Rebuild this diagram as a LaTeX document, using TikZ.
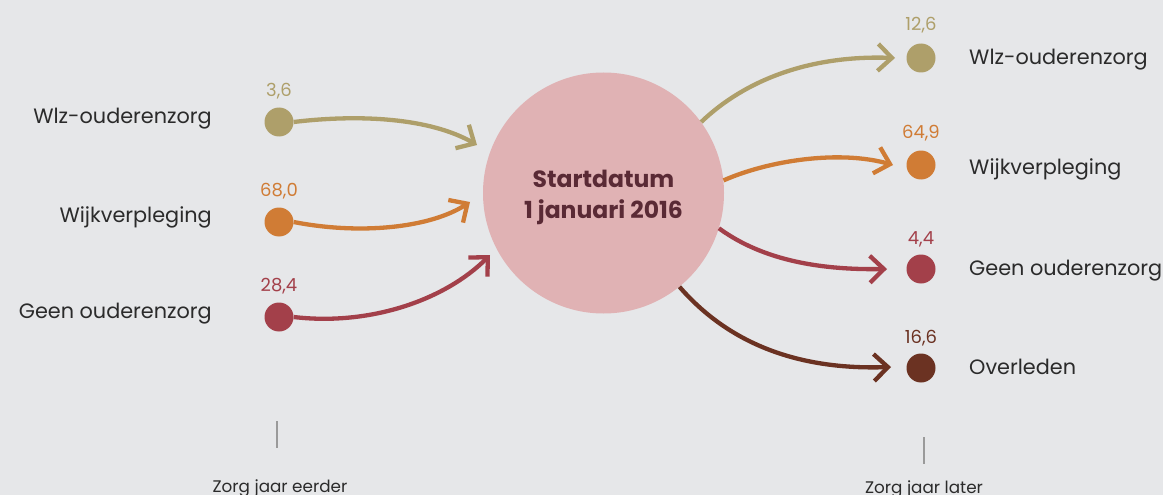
\documentclass[tikz,border=0pt]{standalone}
\usepackage{fontspec}
\setmainfont{Poppins}
\usetikzlibrary{arrows.meta}
\definecolor{bg}{HTML}{E6E7E9}
\definecolor{cwlz}{HTML}{AE9F6A}
\definecolor{cwijk}{HTML}{D07C35}
\definecolor{cgeen}{HTML}{A3404A}
\definecolor{cover}{HTML}{6B3222}
\definecolor{cpink}{HTML}{E0B2B4}
\definecolor{cmaroon}{HTML}{5A2A35}
\definecolor{ctxt}{HTML}{2B2B2B}
\definecolor{ctick}{HTML}{9A9A9A}
\tikzset{
  dot/.style={circle, minimum size=29pt, inner sep=0pt, fill=#1},
  val/.style={anchor=base, text=#1, font=\fontsize{18}{20}\selectfont, inner sep=0pt},
  lbl/.style={text=ctxt, font=\fontsize{20.8}{24}\selectfont, inner sep=0pt},
  flow/.style={draw=#1, line width=4.3pt, -{Straight Barb[length=14pt,width=27pt]}},
  axlbl/.style={anchor=base, text=ctxt, font=\fontsize{16.8}{20}\selectfont, inner sep=0pt},
  tick/.style={draw=ctick, line width=1.5pt}
}
\begin{document}
\begin{tikzpicture}[x=1pt,y=-1pt]
\useasboundingbox (0,0) rectangle (1163,495);
\fill[bg] (0,0) rectangle (1163,495);
\clip (0,0) rectangle (1163,495);

% central circle
\node[circle, minimum size=241pt, inner sep=0pt, fill=cpink] (c) at (603.5,193) {};
\node[text=cmaroon, font=\bfseries\fontsize{23.5}{31}\selectfont, align=center,
      inner sep=0pt] (ct) at (603.5,197) {Startdatum\\1 januari 2016};

% left side
\node[dot=cwlz]  (l1) at (279,122) {};
\node[dot=cwijk] (l2) at (279,222) {};
\node[dot=cgeen] (l3) at (279,317) {};
\node[val=cwlz]  (v1) at (279,97) {3,6};
\node[val=cwijk] (v2) at (279,196) {68,0};
\node[val=cgeen] (v3) at (279,291) {28,4};
\node[lbl, anchor=base east] (t1) at (212,123) {Wlz-ouderenzorg};
\node[lbl, anchor=base east] (t2) at (212,222) {Wijkverpleging};
\node[lbl, anchor=base east] (t3) at (212,318) {Geen ouderenzorg};

\coordinate (e1) at (477,145);
\coordinate (e2) at (470,202);
\coordinate (e3) at (490,255);
\draw[flow=cwlz]  (l1.east) .. controls (360,114) and (430,118) .. (e1);
\draw[flow=cwijk] (l2.east) .. controls (360,235) and (430,228) .. (e2);
\draw[flow=cgeen] (l3.east) .. controls (370,326) and (445,300) .. (e3);

% right side
\node[dot=cwlz]  (r1) at (921,58) {};
\node[dot=cwijk] (r2) at (921,165) {};
\node[dot=cgeen] (r3) at (921,269) {};
\node[dot=cover] (r4) at (921,368) {};
\node[val=cwlz]  (w1) at (921,31) {12,6};
\node[val=cwijk] (w2) at (921,139) {64,9};
\node[val=cgeen] (w3) at (921,244) {4,4};
\node[val=cover] (w4) at (921,343) {16,6};
\node[lbl, anchor=base west] (s1) at (969,65) {Wlz-ouderenzorg};
\node[lbl, anchor=base west] (s2) at (969,174) {Wijkverpleging};
\node[lbl, anchor=base west] (s3) at (969,275) {Geen ouderenzorg};
\node[lbl, anchor=base west] (s4) at (969,374) {Overleden};

\coordinate (f1) at (895,58);
\coordinate (f2) at (893,165);
\coordinate (f3) at (887,269);
\coordinate (f4) at (891,367);
\draw[flow=cwlz]  (c.36)  .. controls (745,80) and (810,55) .. (f1);
\draw[flow=cwijk] (c.6)   .. controls (770,160) and (840,150) .. (f2);
\draw[flow=cgeen] (c.-17) .. controls (765,262) and (825,270) .. (f3);
\draw[flow=cover] (c.-51) .. controls (730,345) and (800,370) .. (f4);

% axis ticks
\coordinate (ka) at (277,421);
\coordinate (kb) at (277,448);
\coordinate (kc) at (924,437);
\coordinate (kd) at (924,464);
\draw[tick] (ka) -- (kb);
\draw[tick] (kc) -- (kd);
\node[axlbl] (a1) at (280,492) {Zorg jaar eerder};
\node[axlbl] (a2) at (924,493) {Zorg jaar later};
\end{tikzpicture}
\end{document}
